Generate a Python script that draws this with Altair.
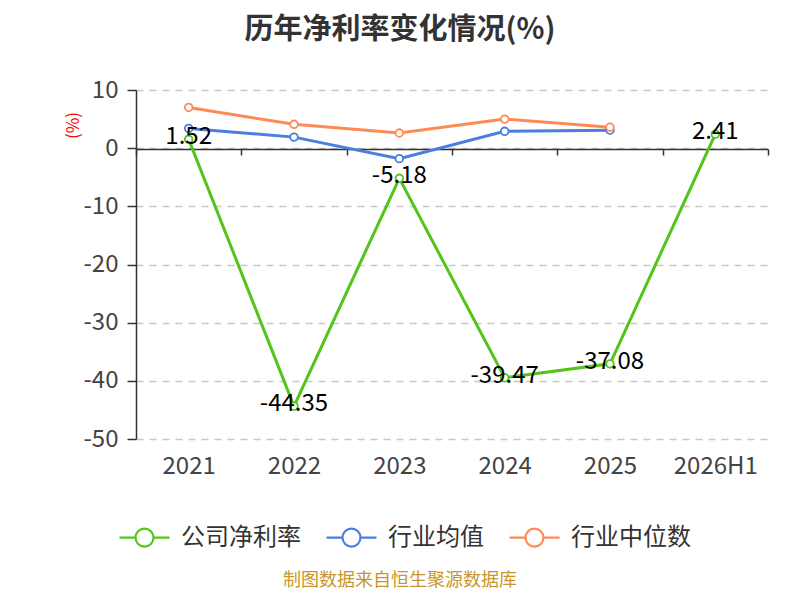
import altair as alt
import pandas as pd

# ── Data ─────────────────────────────────────────────────────────────────────
years = ['2021', '2022', '2023', '2024', '2025', '2026H1']
company = [1.52, -44.35, -5.18, -39.47, -37.08, 2.41]
industry_avg = [3.4, 1.9, -1.8, 2.9, 3.1]
industry_median = [7.0, 4.1, 2.6, 5.0, 3.6]

series_names = ['公司净利率', '行业均值', '行业中位数']
series_colors = ['#52c41a', '#4a7fe0', '#ff8a55']
source_note = ['制图数据来自恒生聚源数据库']

rows = []
for name, vals in zip(series_names, [company, industry_avg, industry_median]):
    for yr, v in zip(years, vals):
        rows.append({'year': yr, 'series': name, 'value': v,
                     'label': f'{v:.2f}'})
df = pd.DataFrame(rows)
df_company = df[df['series'] == series_names[0]]

FONT = 'Noto Sans CJK SC'
# legend glyph: short line – hollow circle – short line
legend_symbol = ('M-1,0L-0.36,0M0.36,0L1,0'
                 'M-0.36,0A0.36,0.36 0 1,1 0.36,0A0.36,0.36 0 1,1 -0.36,0Z')

# ── Encodings ────────────────────────────────────────────────────────────────
# x axis drawn at y = 0 (offset), labels pushed down below the plot
x_enc = alt.X('year:N', sort=years, scale=alt.Scale(domain=years),
              axis=alt.Axis(title=None, labelAngle=0, offset=-290,
                            domain=True, domainColor='#333', domainWidth=1.5,
                            ticks=True, tickBand='extent', tickSize=6,
                            tickColor='#333', tickWidth=1.5,
                            labelPadding=299, labelFontSize=24,
                            labelColor='#444', labelFont=FONT))
y_enc = alt.Y('value:Q',
              scale=alt.Scale(domain=[-50, 10], nice=False, zero=False),
              axis=alt.Axis(values=[-50, -40, -30, -20, -10, 0, 10],
                            labelExpr='datum.value',
                            title='(%)', titleColor='red', titleFontSize=17,
                            titleFontWeight='normal', titleFont=FONT,
                            titleX=-54, titleY=35, titleAlign='center',
                            labelFontSize=24, labelColor='#444', labelFont=FONT,
                            labelPadding=9, tickSize=9, tickColor='#333',
                            tickWidth=1.5, domainColor='#333', domainWidth=1.5,
                            grid=True, gridDash=[7, 6], gridColor='#c8c8c8',
                            gridWidth=1.3))
color_legend = alt.Legend(title=None, orient='none', direction='horizontal',
                          legendX=-18, legendY=421,
                          symbolType=legend_symbol, symbolSize=2500,
                          symbolStrokeWidth=2.2, symbolFillColor='white',
                          labelFontSize=24, labelColor='#333',
                          labelFont=FONT, labelOffset=10, columnPadding=21)
color_scale = alt.Scale(domain=series_names, range=series_colors)

lines = alt.Chart(df).mark_line(strokeWidth=3).encode(
    x=x_enc, y=y_enc,
    color=alt.Color('series:N', sort=series_names, scale=color_scale,
                    legend=color_legend))

points = alt.Chart(df).mark_point(
    filled=False, fill='white', fillOpacity=1, opacity=1, size=58,
    strokeWidth=1.8
).encode(x=alt.X('year:N', sort=years), y='value:Q',
         color=alt.Color('series:N', sort=series_names, scale=color_scale,
                         legend=None))

labels = alt.Chart(df_company).mark_text(
    fontSize=24, font=FONT, color='black', dy=-2
).encode(x=alt.X('year:N', sort=years), y='value:Q', text='label:N')

note = alt.Chart(pd.DataFrame({'t': source_note})).mark_text(
    fontSize=18, font=FONT, color='#c9962b'
).encode(x=alt.value(264), y=alt.value(491), text='t:N')

chart = alt.layer(lines, points, labels, note).properties(
    width=632, height=349,
    autosize=alt.AutoSizeParams(type='none'),
    padding={'left': 128, 'top': 82, 'right': 24, 'bottom': 153},
    title=alt.TitleParams(text='历年净利率变化情况(%)', fontSize=29,
                          font=FONT, fontWeight='bold', color='#333',
                          anchor='middle', dx=-52, offset=33)
).configure_view(strokeWidth=0)

chart.save('out.html', embed_options={'renderer': 'svg', 'actions': False})
